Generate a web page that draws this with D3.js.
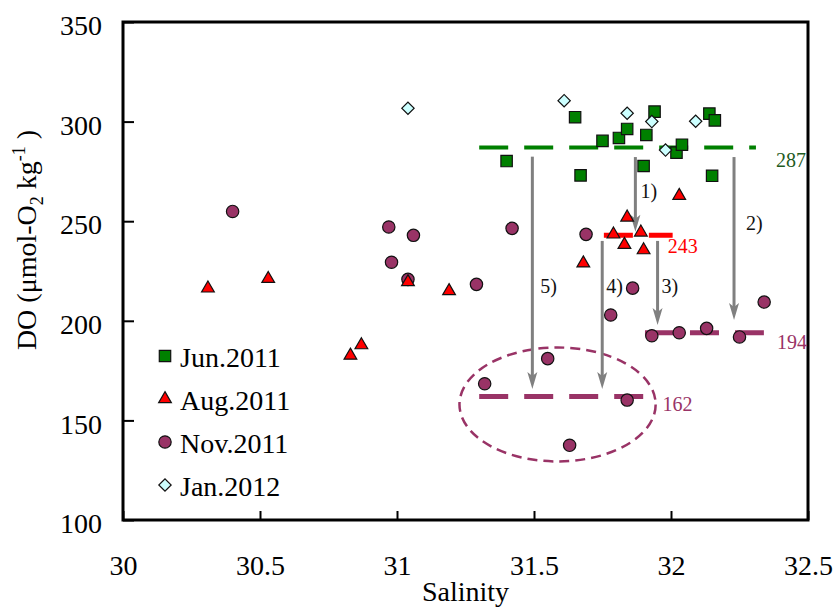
<!DOCTYPE html>
<html>
<head>
<meta charset="utf-8">
<script src="https://cdn.jsdelivr.net/npm/d3@7"></script>
<style>
  body { margin: 0; background: #fff; }
  svg text { font-family: "Times New Roman", "Liberation Serif", "DejaVu Serif", serif !important; }
</style>
</head>
<body>
<div class="chart"></div>
<script>
// salinity / DO observations per cruise
const junSal = [31.40, 31.65, 31.75, 31.81, 31.84, 31.91, 31.94, 32.02, 32.04, 32.14, 32.16, 31.90, 31.67, 32.15]
const junDO  = [280.2, 302.2, 290.3, 291.8, 296.3, 293.3, 305.0, 284.4, 288.4, 304.0, 300.6, 277.7, 273.0, 272.8]

const augSal = [30.31, 30.53, 30.83, 30.87, 31.04, 31.19, 31.68, 31.79, 31.83, 31.84, 31.89, 31.90, 32.03]
const augDO  = [216.3, 221.1, 182.6, 187.8, 219.5, 215.0, 228.9, 243.4, 238.2, 251.9, 244.4, 235.5, 262.8]

const novSal = [30.40, 30.97, 30.98, 31.04, 31.06, 31.29, 31.42, 31.69, 31.86, 31.78, 31.93, 32.03, 32.13, 32.25, 32.34, 31.55, 31.32, 31.84, 31.63]
const novDO  = [254.9, 247.1, 229.4, 220.8, 242.9, 218.3, 246.4, 243.4, 216.4, 202.9, 192.5, 194.0, 196.2, 191.9, 209.4, 181.0, 168.4, 160.2, 137.5]

const janSal = [31.04, 31.61, 31.84, 31.93, 32.09, 31.98]
const janDO  = [306.7, 310.5, 304.2, 300.0, 300.2, 285.7]

const seriesNames = ['Jun.2011', 'Aug.2011', 'Nov.2011', 'Jan.2012']

// mean levels (dashed lines): level, salinity extent
const levelValues = [287, 243, 194, 162]
const levelStart  = [31.30, 31.755, 31.905, 31.30]
const levelEnd    = [32.31, 32.006, 32.339, 31.90]

// arrows: salinity, from DO, to DO, label
const arrowSal   = [31.870, 32.230, 31.951, 31.749, 31.494]
const arrowFrom  = [282.2, 282.2, 240.1, 240.1, 282.4]
const arrowTo    = [244.7, 200.4, 197.9, 165.8, 165.8]
const arrowLabel = ['1)', '2)', '3)', '4)', '5)']
const arrowLabelDO = [261.6, 245.6, 214.0, 214.0, 214.0]

// dashed ellipse around the low-DO group (centre and radii in data units)
const ellipseC = [31.586, 158.0]
const ellipseR = [0.358, 28.6]

const xTicks = [30, 30.5, 31, 31.5, 32, 32.5]
const yTicks = [100, 150, 200, 250, 300, 350]

const width = 834, height = 608
const plot = { left: 123, right: 808, top: 22, bottom: 520 }
const serif = '"Times New Roman", "Liberation Serif", "DejaVu Serif", serif'

const colors = {
    jun: '#008000', aug: '#ff0000', nov: '#993366', jan: '#ccffff'
}

const svg = d3.select('.chart')
    .append('svg')
    .attr('width', width)
    .attr('height', height)
    .attr('font-family', serif)

const x = d3.scaleLinear().domain([30, 32.5]).range([plot.left, plot.right])
const y = d3.scaleLinear().domain([100, 350]).range([plot.bottom, plot.top])

// axes
const yAxis = svg.append('g')
    .attr('transform', `translate(${plot.left},0)`)
    .call(d3.axisLeft(y).tickValues(yTicks).tickSize(-11).tickPadding(21).tickFormat(d3.format('d')))
yAxis.attr('font-family', serif)
yAxis.select('.domain').remove()
yAxis.selectAll('line').attr('stroke', '#000').attr('stroke-width', 2)
yAxis.selectAll('text').attr('font-size', 28).attr('fill', '#000').attr('dy', '0.45em')

const xAxis = svg.append('g')
    .attr('transform', `translate(0,${plot.bottom})`)
    .call(d3.axisBottom(x).tickValues(xTicks).tickSize(-9).tickPadding(35).tickFormat(d => d))
xAxis.attr('font-family', serif)
xAxis.select('.domain').remove()
xAxis.selectAll('line').attr('stroke', '#000').attr('stroke-width', 2)
xAxis.selectAll('text').attr('font-size', 28).attr('fill', '#000')

svg.append('rect')
    .attr('x', plot.left)
    .attr('y', plot.top)
    .attr('width', plot.right - plot.left)
    .attr('height', plot.bottom - plot.top)
    .attr('fill', 'none')
    .attr('stroke', '#000')
    .attr('stroke-width', 3)

svg.append('text')
    .attr('x', (x(30) + x(32.5)) / 2)
    .attr('y', 601)
    .attr('text-anchor', 'middle')
    .attr('font-size', 28)
    .text('Salinity')

const ylab = svg.append('text')
    .attr('transform', 'translate(36,240) rotate(-90)')
    .attr('text-anchor', 'middle')
    .attr('font-size', 28)
ylab.append('tspan').text('DO (μmol-O')
ylab.append('tspan').attr('font-size', 18).attr('dy', 7).text('2')
ylab.append('tspan').attr('dy', -7).text(' kg')
ylab.append('tspan').attr('font-size', 18).attr('dy', -11).text('-1')
ylab.append('tspan').attr('dy', 11).text(' )')

// level lines
const levelColor = ['#008000', '#ff0000', '#993366', '#993366']
const levelWidth = [4, 5, 5, 5]
const levelTextColor = ['#1e5b1e', '#ff0000', '#993366', '#993366']
const levelLabelOffset = [[20, 20], [-5, 18], [13, 16], [19, 15]]

svg.append('g').selectAll('line')
    .data(levelValues)
    .enter().append('line')
    .attr('x1', (d, i) => x(levelStart[i]))
    .attr('x2', (d, i) => x(levelEnd[i]))
    .attr('y1', d => y(d))
    .attr('y2', d => y(d))
    .attr('stroke', (d, i) => levelColor[i])
    .attr('stroke-width', (d, i) => levelWidth[i])
    .attr('stroke-dasharray', '29,16')

svg.append('g').selectAll('text')
    .data(levelValues)
    .enter().append('text')
    .attr('x', (d, i) => x(levelEnd[i]) + levelLabelOffset[i][0])
    .attr('y', (d, i) => y(d) + levelLabelOffset[i][1])
    .attr('font-size', 20)
    .attr('fill', (d, i) => levelTextColor[i])
    .text(d => d)

// ellipse
svg.append('ellipse')
    .attr('cx', x(ellipseC[0]))
    .attr('cy', y(ellipseC[1]))
    .attr('rx', x(ellipseC[0] + ellipseR[0]) - x(ellipseC[0]))
    .attr('ry', y(ellipseC[1]) - y(ellipseC[1] + ellipseR[1]))
    .attr('fill', 'none')
    .attr('stroke', '#993366')
    .attr('stroke-width', 2.5)
    .attr('stroke-dasharray', '10,6')

// arrows
const arrows = svg.append('g')
arrowSal.forEach((s, i) => {
    const ax = x(s), y0 = y(arrowFrom[i]), y1 = y(arrowTo[i])
    arrows.append('line')
        .attr('x1', ax).attr('x2', ax)
        .attr('y1', y0).attr('y2', y1 - 10)
        .attr('stroke', '#808080')
        .attr('stroke-width', 3)
    arrows.append('path')
        .attr('d', `M${ax},${y1} L${ax - 5},${y1 - 17} L${ax},${y1 - 13} L${ax + 5},${y1 - 17} Z`)
        .attr('fill', '#808080')
})
const arrowLabelDx = [5, 12, 4, 4, 8]
svg.append('g').selectAll('text')
    .data(arrowLabel)
    .enter().append('text')
    .attr('x', (d, i) => x(arrowSal[i]) + arrowLabelDx[i])
    .attr('y', (d, i) => y(arrowLabelDO[i]))
    .attr('font-size', 20)
    .attr('fill', '#111')
    .text(d => d)

// markers
const symbols = {
    jun: d3.symbol().type(d3.symbolSquare).size(130),
    aug: d3.symbol().type(d3.symbolTriangle).size(70),
    nov: d3.symbol().type(d3.symbolCircle).size(120),
    jan: d3.symbol().type(d3.symbolSquare).size(76)
}
const rot = { jun: 0, aug: 0, nov: 0, jan: 45 }

const drawSeries = (sal, dO, key) => {
    svg.append('g').selectAll('path')
        .data(sal)
        .enter().append('path')
        .attr('d', symbols[key])
        .attr('transform', (d, i) => `translate(${x(d)},${y(dO[i])}) rotate(${rot[key]})`)
        .attr('fill', colors[key])
        .attr('stroke', '#111')
        .attr('stroke-width', 1.2)
}

drawSeries(novSal, novDO, 'nov')
drawSeries(augSal, augDO, 'aug')
drawSeries(junSal, junDO, 'jun')
drawSeries(janSal, janDO, 'jan')

// legend
const legendKeys = ['jun', 'aug', 'nov', 'jan']
const legend = svg.append('g').attr('transform', 'translate(165,356)')
legendKeys.forEach((k, i) => {
    const row = legend.append('g').attr('transform', `translate(0,${i * 43})`)
    row.append('path')
        .attr('d', symbols[k])
        .attr('transform', `rotate(${rot[k]})`)
        .attr('fill', colors[k])
        .attr('stroke', '#111')
        .attr('stroke-width', 1.2)
    row.append('text')
        .attr('x', 15)
        .attr('y', 11)
        .attr('font-size', 28)
        .text(seriesNames[i])
})
</script>
</body>
</html>
